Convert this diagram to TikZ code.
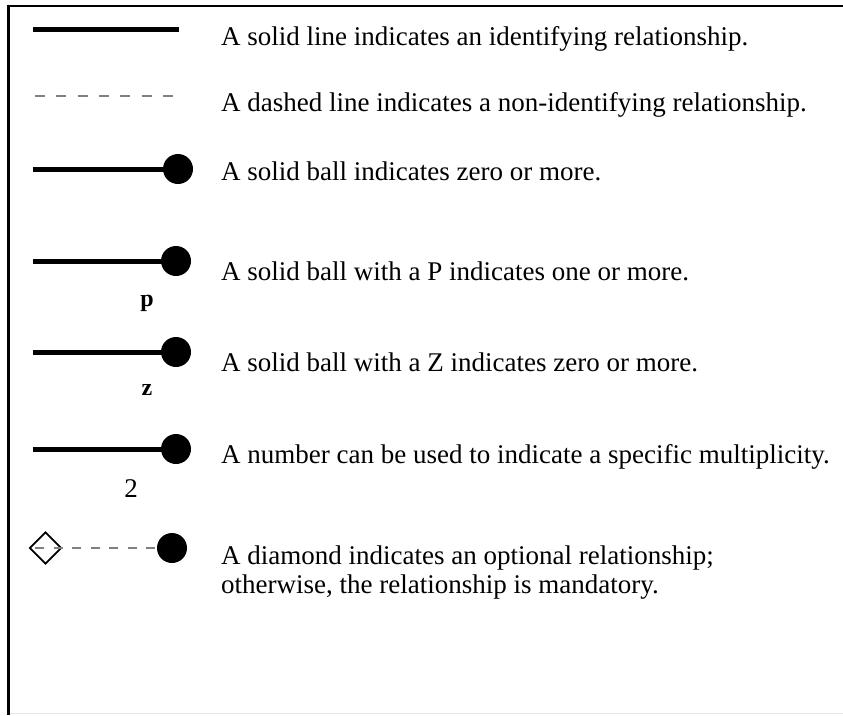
\documentclass[tikz,border=0pt]{standalone}
\usepackage{fontspec}
\setmainfont{Liberation Serif}
\usetikzlibrary{shapes.geometric}
\begin{document}
\begin{tikzpicture}[x=1pt,y=-1pt,
  ball/.style={circle,fill=black,inner sep=0pt,minimum size=30pt},
  solidrel/.style={line width=5pt},
  dashrel/.style={draw=black!50,line width=1.2pt,dash pattern=on 10pt off 11.3pt},
  desc/.style={anchor=base west,inner sep=0pt,font=\fontsize{27}{28.3}\selectfont,align=left},
  mult/.style={anchor=base,inner sep=0pt,font=\fontsize{24}{26}\selectfont\bfseries},
  multnum/.style={anchor=base,inner sep=0pt,font=\fontsize{27}{28}\selectfont},
  diam/.style={diamond,draw=black,line width=1.8pt,inner sep=0pt,minimum size=32pt}]
\useasboundingbox (0,0) rectangle (843,715);
% frame
\coordinate (ftr) at (843,6);
\coordinate (ftl) at (7,6);
\coordinate (fl1) at (8.5,4.8);
\coordinate (fl2) at (8.5,715);
\coordinate (fb1) at (10,713.5);
\coordinate (fb2) at (843,713.5);
\draw[line width=2.4pt] (ftl) -- (ftr);
\draw[line width=3pt] (fl1) -- (fl2);
\draw[draw=black!10,line width=1pt] (fb1) -- (fb2);
% row 1
\coordinate (s1) at (33,29.5);
\coordinate (e1) at (179,29.5);
\draw[solidrel] (s1) -- (e1);
\node[desc] (t1) at (221,45) {A solid line indicates an identifying relationship.};
% row 2
\coordinate (s2) at (35,96);
\coordinate (e2) at (173,96);
\draw[dashrel] (s2) -- (e2);
\node[desc] (t2) at (221,111) {A dashed line indicates a non-identifying relationship.};
% row 3
\coordinate (s3) at (33,169);
\node[ball] (b3) at (178,169) {};
\draw[solidrel] (s3) -- (b3.center);
\node[desc] (t3) at (221,180) {A solid ball indicates zero or more.};
% row 4
\coordinate (s4) at (33,261);
\node[ball] (b4) at (176,261) {};
\draw[solidrel] (s4) -- (b4.center);
\node[mult] (m4) at (147,306) {p};
\node[desc] (t4) at (221,280) {A solid ball with a P indicates one or more.};
% row 5
\coordinate (s5) at (33,352);
\node[ball] (b5) at (176,352) {};
\draw[solidrel] (s5) -- (b5.center);
\node[mult] (m5) at (147,395) {z};
\node[desc] (t5) at (221,371) {A solid ball with a Z indicates zero or more.};
% row 6
\coordinate (s6) at (33,449);
\node[ball] (b6) at (176,449) {};
\draw[solidrel] (s6) -- (b6.center);
\node[multnum] (m6) at (131,497) {2};
\node[desc] (t6) at (221,463) {A number can be used to indicate a specific multiplicity.};
% row 7
\node[diam] (d7) at (45.5,548) {};
\coordinate (s7) at (35,548);
\node[ball] (b7) at (172,548) {};
\draw[dashrel,dash pattern=on 9pt off 9.5pt] (s7) -- (b7.west);
\node[desc] (t7) at (221,593) {A diamond indicates an optional relationship;\\otherwise, the relationship is mandatory.};
\end{tikzpicture}
\end{document}
